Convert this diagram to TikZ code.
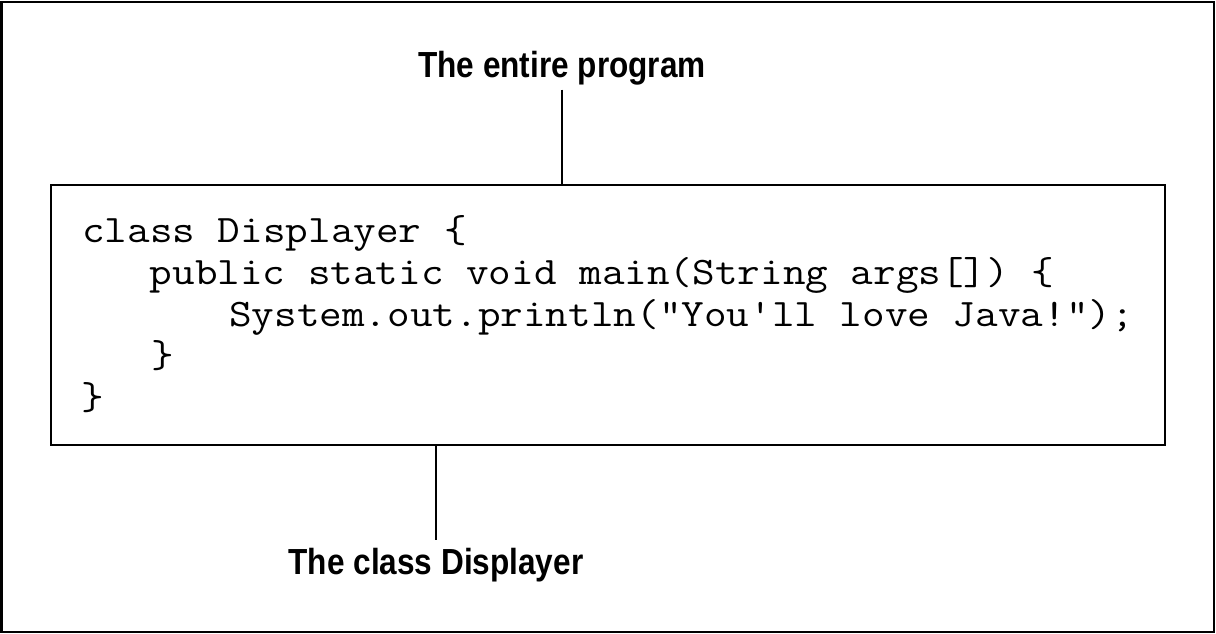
\documentclass[tikz,border=0pt]{standalone}
\usepackage{fontspec}
\newfontfamily\labelfont[FakeStretch=0.87]{Liberation Sans Bold}
\newfontfamily\codefont[FakeStretch=1.128]{Latin Modern Mono}
\begin{document}
\begin{tikzpicture}[x=0.75pt,y=-0.75pt,
  labeltext/.style={font=\labelfont\fontsize{27.2pt}{30pt}\selectfont, inner sep=0pt, anchor=base},
  codeline/.style={font=\codefont\fontsize{29.2pt}{32pt}\selectfont, inner sep=0pt, anchor=base west},
  frame/.style={draw=black, line width=1.5pt},
  conn/.style={draw=black, line width=1.5pt}]
\useasboundingbox (0,0) rectangle (1216,634);
\draw[frame] (1.5,2) rectangle (1214,632);
\node[frame, minimum width=835.5pt, minimum height=195pt, inner sep=0pt] (box) at (608,315) {};
\node[codeline] (l1) at (82,243) {class Displayer \{};
\node[codeline] (l2) at (149.5,284.5) {public static void main(String args[]) \{};
\node[codeline] (l3) at (229,326) {System.out.println("You'll love Java!");};
\node[codeline] (l4) at (151,367.5) {\}};
\node[codeline] (l5) at (81,409) {\}};
\node[labeltext, outer sep=3pt] (top) at (562,78) {The entire program};
\node[labeltext, outer sep=5.5pt] (bot) at (436,574) {The class Displayer};
\draw[conn] (top.south) -- (top.south |- box.north);
\draw[conn] (bot.north |- box.south) -- (bot.north);
\end{tikzpicture}
\end{document}
